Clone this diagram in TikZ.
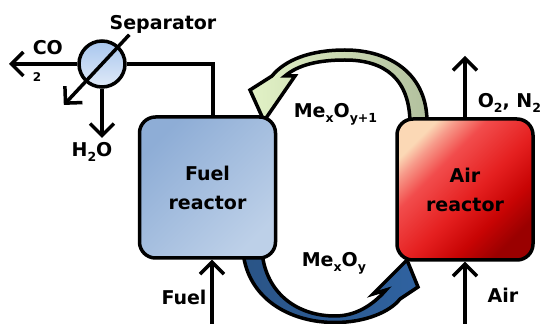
\documentclass[tikz,border=0pt]{standalone}
\usepackage{fontspec}
\setmainfont{DejaVu Sans}
\usetikzlibrary{calc,arrows.meta}

\definecolor{fuelA}{HTML}{8EADD6}
\definecolor{fuelB}{HTML}{BDD0E8}
\definecolor{sepA}{HTML}{A8C6EE}
\definecolor{sepB}{HTML}{E0EAF8}
\definecolor{greenA}{HTML}{E2F2C6}
\definecolor{greenB}{HTML}{B2C09E}
\definecolor{blueL}{HTML}{2A5486}
\definecolor{blueM}{HTML}{1D3866}
\definecolor{blueR}{HTML}{2F62A0}
\definecolor{airA}{HTML}{9A0000}
\definecolor{airB}{HTML}{C80404}
\definecolor{airC}{HTML}{E52020}
\definecolor{airD}{HTML}{F24C4C}
\definecolor{airE}{HTML}{F79A8A}
\definecolor{airF}{HTML}{FBD8B5}

% 空气反应器：左上浅橙，中间红，右下暗红
\pgfdeclareverticalshading{airshade}{100bp}{
  color(0bp)=(airA); color(25bp)=(airA); color(35bp)=(airB);
  color(47bp)=(airC); color(62bp)=(airD); color(70bp)=(airE);
  color(75bp)=(airF); color(100bp)=(airF)}

\newcommand{\lowsub}[1]{\raisebox{-5pt}{\fontsize{12.5}{12.5}\selectfont #1}}

\begin{document}
\begin{tikzpicture}[x=1pt, y=1pt, line width=3.5pt,
  reactor/.style={draw, rounded corners=16pt, minimum width=136pt,
    minimum height=141pt, align=center,
    font=\bfseries\fontsize{19}{29}\selectfont},
  lbl/.style={inner sep=0pt, font=\bfseries\fontsize{19}{22}\selectfont},
  flow/.style={-{Straight Barb[length=12pt,width=24pt]}},
  loop/.style={draw, line join=miter}]
  \useasboundingbox (0,0) rectangle (542,324);

  % 载氧体循环，先画，让反应器盖住尾部
  \draw[loop, left color=greenA, right color=greenB]
    (427,200) .. controls (428,250) and (390,274) .. (345,274)
    .. controls (310,274) and (285,264) .. (272,248)
    -- (250,234) -- (264,203) -- (295,248) -- (285,248)
    .. controls (298,259) and (318,264) .. (345,264)
    .. controls (385,264) and (410,245) .. (410,200) -- cycle;
  \draw[loop, left color=blueL, middle color=blueM, right color=blueR]
    (243,72) .. controls (248,25) and (290,1.5) .. (335,1.5)
    .. controls (365,1.5) and (390,12) .. (400,25)
    -- (418,37) -- (407,64) -- (373,30) -- (386,34)
    .. controls (372,18) and (355,8) .. (335,8)
    .. controls (298,8) and (266,30) .. (262,72) -- cycle;

  % 两个反应器
  \node[reactor, top color=fuelA, bottom color=fuelB, shading angle=45] (fuel) at (207.5,136.5) {Fuel\\reactor};
  \node[reactor, shade, shading=airshade, shading angle=45] (air) at (465,134.5) {Air\\reactor};

  % 分离器
  \node[circle, draw, minimum size=46pt, inner sep=0pt,
    top color=sepA, bottom color=sepB] (sep) at (102,260) {};
  \coordinate (co2end) at (9,260);
  \coordinate (h2oend) at (102,186);
  \coordinate (fuelin) at (212,-4);
  \coordinate (airin)  at (465,-4);
  \coordinate (airout) at (465,268);

  \draw (sep.east) -| ([xshift=5.5pt]fuel.north);
  \draw[flow] (sep.west) -- (co2end);
  \draw[flow] (sep.south) -- (h2oend);
  \draw[flow] ($(sep)+(47:40)$) -- ($(sep)+(227:56)$);

  % 进出气流
  \draw[flow] (fuelin) -- (fuelin |- fuel.south);
  \draw[flow] (airin) -- (air.south);
  \draw[flow] (air.north) -- (airout);

  \node[lbl, anchor=base] (seplbl) at (163,294) {Separator};
  \node[lbl, anchor=north west, align=left] (co2lbl) at (31,285) {CO\\[5pt]{\fontsize{12}{12}\selectfont 2}};
  \node[lbl, anchor=base] (h2olbl) at (92,167) {H\lowsub{2}O};
  \node[lbl, anchor=base] (fuellbl) at (184,19) {Fuel};
  \node[lbl, anchor=base] (airlbl) at (503,21) {Air};
  \node[lbl, anchor=base west] (gaslbl) at (476,216) {O\lowsub{2}, N\lowsub{2}};
  \node[lbl, anchor=base west] (oxlbl) at (292,206) {Me\lowsub{x}O\lowsub{y+1}};
  \node[lbl, anchor=base west] (redlbl) at (300,57) {Me\lowsub{x}O\lowsub{y}};
\end{tikzpicture}
\end{document}
